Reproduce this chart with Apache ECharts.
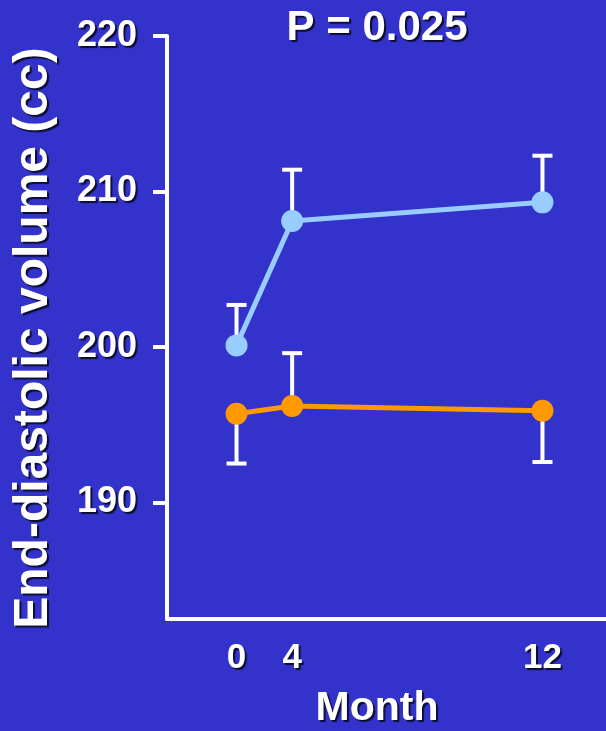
<!DOCTYPE html>
<html>
<head>
<meta charset="utf-8">
<script src="https://cdn.jsdelivr.net/npm/echarts@6/dist/echarts.min.js"></script>
<style>html,body{margin:0;padding:0;background:#3333cc;}#c{width:606px;height:731px;}</style>
</head>
<body>
<div id="c"></div>
<script>
// ---- data ----
const months = [0, 4, 12];
const xSlots = ['', '', '0', '', '4', '', '', '', '', '', '', '', '', '12', '', ''];
const blueMean = [200.1, 208.1, 209.3];
const blueBound = [202.7, 211.4, 212.3];
const orangeMean = [195.7, 196.2, 195.9];
const orangeBound = [192.5, 199.6, 192.6];
const yTicks = [190, 200, 210, 220];
const titleText = 'P = 0.025';
const yTitle = 'End-diastolic volume (cc)';
const xTitle = 'Month';

const FONT = "'Liberation Sans', Arial, sans-serif";
const shadow = { textShadowColor: 'rgba(0,0,0,0.75)', textShadowOffsetX: 2, textShadowOffsetY: 2, textShadowBlur: 1 };

const idx = m => xSlots.indexOf(String(m));
const lineData = arr => months.map((m, i) => [idx(m), arr[i]]);
const errData = (mean, bound) => months.map((m, i) => [idx(m), mean[i], bound[i]]);

function renderErr(params, api) {
  const p1 = api.coord([api.value(0), api.value(1)]);
  const p2 = api.coord([api.value(0), api.value(2)]);
  const st = { stroke: '#ffffff', lineWidth: 4 };
  return {
    type: 'group',
    children: [
      { type: 'line', shape: { x1: p1[0], y1: p1[1], x2: p2[0], y2: p2[1] }, style: st },
      { type: 'line', shape: { x1: p2[0] - 10, y1: p2[1], x2: p2[0] + 10, y2: p2[1] }, style: st }
    ]
  };
}

const chart = echarts.init(document.getElementById('c'));
chart.setOption({
  backgroundColor: '#3333cc',
  animation: false,
  grid: { left: 167, top: 36, width: 445, bottom: 112, outerBoundsMode: 'none', containLabel: false },
  xAxis: {
    type: 'category',
    data: xSlots,
    boundaryGap: true,
    axisLine: { lineStyle: { color: '#ffffff', width: 4 } },
    axisTick: { alignWithLabel: true, length: 9, lineStyle: { color: '#ffffff', width: 4 },
      interval: (i, v) => v !== '' },
    axisLabel: { interval: 0, color: '#ffffff', fontSize: 35, fontWeight: 'bold', fontFamily: FONT, margin: 22, ...shadow },
    splitLine: { show: false }
  },
  yAxis: {
    type: 'value',
    min: 182.5,
    max: 220,
    axisLine: { show: true, lineStyle: { color: '#ffffff', width: 4 } },
    axisTick: { show: true, length: 14, customValues: yTicks, lineStyle: { color: '#ffffff', width: 4 } },
    axisLabel: { customValues: yTicks, color: '#ffffff', fontSize: 36, fontWeight: 'bold', fontFamily: FONT, margin: 30,
      padding: [6, 0, 0, 0], ...shadow },
    splitLine: { show: false }
  },
  graphic: [
    { type: 'text', x: 377, y: 28, z: 100,
      style: { text: titleText, fill: '#ffffff', font: 'bold 42px ' + FONT, textAlign: 'center', textVerticalAlign: 'middle', ...shadow } },
    { type: 'text', x: 377, y: 709, z: 100,
      style: { text: xTitle, fill: '#ffffff', font: 'bold 41px ' + FONT, textAlign: 'center', textVerticalAlign: 'middle', ...shadow } },
    { type: 'text', x: 34, y: 338, rotation: Math.PI / 2, z: 100,
      style: { text: yTitle, fill: '#ffffff', font: 'bold 48px ' + FONT, textAlign: 'center', textVerticalAlign: 'middle', ...shadow } }
  ],
  series: [
    { type: 'custom', name: 'blueErr', renderItem: renderErr, data: errData(blueMean, blueBound), encode: { x: 0, y: [1, 2] }, z: 1 },
    { type: 'custom', name: 'orangeErr', renderItem: renderErr, data: errData(orangeMean, orangeBound), encode: { x: 0, y: [1, 2] }, z: 1 },
    { type: 'line', name: 'blue', data: lineData(blueMean), z: 5,
      lineStyle: { color: '#99ccff', width: 5 }, itemStyle: { color: '#99ccff' },
      symbol: 'circle', symbolSize: 22, showSymbol: true },
    { type: 'line', name: 'orange', data: lineData(orangeMean), z: 5,
      lineStyle: { color: '#ff9900', width: 5 }, itemStyle: { color: '#ff9900' },
      symbol: 'circle', symbolSize: 22, showSymbol: true }
  ]
});
</script>
</body>
</html>
